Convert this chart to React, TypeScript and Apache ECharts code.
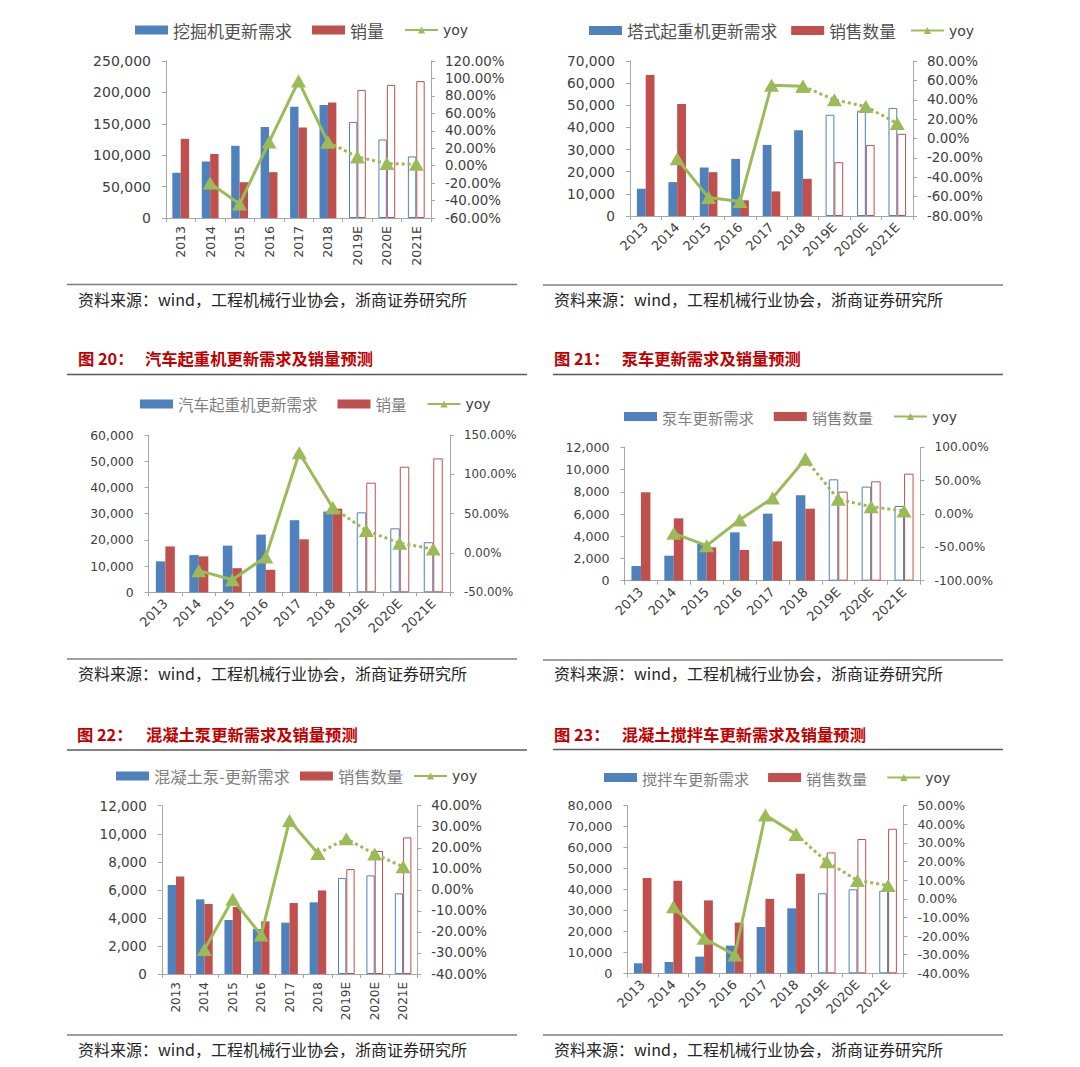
import React, { useEffect, useRef } from 'react';
import * as echarts from 'echarts';

const years = ['2013', '2014', '2015', '2016', '2017', '2018', '2019E', '2020E', '2021E'];

// Panel 1: 挖掘机
const p1DemandName = '挖掘机更新需求';
const p1SalesName = '销量';
const p1Demand = [72000, 90000, 115000, 145000, 177000, 180000, 153000, 125000, 98000];
const p1Sales = [126000, 102000, 57000, 73000, 144000, 184000, 204000, 212000, 218000];
const p1Yoy = [null, -20, -44, 27, 97, 27, 10, 2.5, 1.5];

// Panel 2: 塔式起重机
const p2DemandName = '塔式起重机更新需求';
const p2SalesName = '销售数量';
const p2Demand = [12300, 15300, 21900, 25800, 32100, 38700, 45700, 47500, 48800];
const p2Sales = [63700, 50600, 19800, 7100, 11100, 16800, 24300, 32100, 37100];
const p2Yoy = [null, -21, -61, -65, 55, 54, 40, 33, 15.5];

// Panel 3: 汽车起重机
const p3DemandName = '汽车起重机更新需求';
const p3SalesName = '销量';
const p3Demand = [11800, 14200, 17800, 22000, 27500, 30800, 30500, 24400, 19100];
const p3Sales = [17500, 13700, 9200, 8600, 20200, 31900, 41800, 47900, 51100];
const p3Yoy = [null, -22.5, -34, -5, 127.5, 57.5, 28.5, 12.5, 5];

// Panel 4: 泵车
const p4DemandName = '泵车更新需求';
const p4SalesName = '销售数量';
const p4Demand = [1320, 2250, 3300, 4350, 6030, 7680, 9120, 8460, 6720];
const p4Sales = [7950, 5610, 3000, 2760, 3540, 6480, 8010, 8940, 9630];
const p4Yoy = [null, -29, -47.5, -9, 24, 82.5, 22, 11, 4.5];

// Panel 5: 混凝土泵
const p5DemandName = '混凝土泵-更新需求';
const p5SalesName = '销售数量';
const p5Demand = [6340, 5320, 3850, 3210, 3660, 5110, 6840, 7030, 5750];
const p5Sales = [6960, 4990, 4780, 3750, 5060, 5960, 7480, 8770, 9740];
const p5Yoy = [null, -28.3, -4.5, -21.5, 33, 17.3, 24.3, 17, 11];

// Panel 6: 搅拌车
const p6DemandName = '搅拌车更新需求';
const p6SalesName = '销售数量';
const p6Demand = [4770, 5400, 7950, 13200, 22100, 31000, 38200, 40100, 39400];
const p6Sales = [45500, 44200, 34800, 24200, 35500, 47500, 57700, 64100, 69000];
const p6Yoy = [null, -4.2, -21.2, -30.2, 45, 34.6, 19.9, 9.9, 7.2];

const figTitles = [
  { num: '图 20：', text: '汽车起重机更新需求及销量预测' },
  { num: '图 21：', text: '泵车更新需求及销量预测' },
  { num: '图 22：', text: '混凝土泵更新需求及销量预测' },
  { num: '图 23：', text: '混凝土搅拌车更新需求及销量预测' },
];
const sourceText = '资料来源：wind，工程机械行业协会，浙商证券研究所';

const BLUE = '#4F81BD';
const RED = '#C0504D';
const GREEN = '#9BBB59';
const AXIS = '#A6A6A6';
const LABEL = '#404040';
const FONT = 'DejaVu Sans';
const CJK = 'Noto Sans CJK SC';

const panels = [
  {
    dn: p1DemandName, sn: p1SalesName, demand: p1Demand, sales: p1Sales, yoy: p1Yoy,
    grid: { left: 166, top: 61, width: 265, height: 157 },
    lMax: 250000, lInt: 50000, rMin: -60, rMax: 120, rInt: 20,
    rotate: 90, xFont: 12.5, yFontL: 14, yFontR: 13.4, barW: 8.4,
    lg: { left: 135, cy: 30, gap: 20, fs: 17, color: '#505050' },
  },
  {
    dn: p2DemandName, sn: p2SalesName, demand: p2Demand, sales: p2Sales, yoy: p2Yoy,
    grid: { left: 630, top: 61, width: 283, height: 155 },
    lMax: 70000, lInt: 10000, rMin: -80, rMax: 80, rInt: 20,
    rotate: 45, xFont: 13, yFontL: 13.7, yFontR: 13.4, barW: 8.8,
    lg: { left: 589, cy: 30.5, gap: 14, fs: 16.7, color: '#505050' },
  },
  {
    dn: p3DemandName, sn: p3SalesName, demand: p3Demand, sales: p3Sales, yoy: p3Yoy,
    grid: { left: 148.6, top: 435, width: 301.4, height: 157.3 },
    lMax: 60000, lInt: 10000, rMin: -50, rMax: 150, rInt: 50,
    rotate: 45, xFont: 13, yFontL: 12.4, yFontR: 11.8, barW: 9.5,
    lg: { left: 140, cy: 404, gap: 20, fs: 15.5, color: '#7F7F7F' },
  },
  {
    dn: p4DemandName, sn: p4SalesName, demand: p4Demand, sales: p4Sales, yoy: p4Yoy,
    grid: { left: 624.5, top: 447.3, width: 296, height: 133.4 },
    lMax: 12000, lInt: 2000, rMin: -100, rMax: 100, rInt: 50,
    rotate: 45, xFont: 13, yFontL: 12.6, yFontR: 12.2, barW: 9.5,
    lg: { left: 624, cy: 416.5, gap: 20, fs: 15.3, color: '#7F7F7F' },
  },
  {
    dn: p5DemandName, sn: p5SalesName, demand: p5Demand, sales: p5Sales, yoy: p5Yoy,
    grid: { left: 161.8, top: 805.7, width: 255.5, height: 168.3 },
    lMax: 12000, lInt: 2000, rMin: -40, rMax: 40, rInt: 10,
    rotate: 90, xFont: 12, yFontL: 13.5, yFontR: 13.3, barW: 8.3,
    lg: { left: 116, cy: 776, gap: 10, fs: 16.3, color: '#7F7F7F' },
  },
  {
    dn: p6DemandName, sn: p6SalesName, demand: p6Demand, sales: p6Sales, yoy: p6Yoy,
    grid: { left: 627.4, top: 805.7, width: 276, height: 167.6 },
    lMax: 80000, lInt: 10000, rMin: -40, rMax: 50, rInt: 10,
    rotate: 45, xFont: 13, yFontL: 12.8, yFontR: 12.5, barW: 8.8,
    lg: { left: 604, cy: 777.5, gap: 19, fs: 15.3, color: '#7F7F7F' },
  },
];

const titlePos = [
  { x: 78, tx: 145, y: 358, line: [67, 527, 374.5] },
  { x: 554, tx: 621.7, y: 358, line: [553, 1003, 374.5] },
  { x: 77, tx: 146, y: 733.5, line: [67, 527, 750] },
  { x: 554, tx: 621.7, y: 733.5, line: [553, 1003, 749.5] },
];
const sourcePos = [
  { x: 78, y: 299, line: [67, 517, 284.5] },
  { x: 554, y: 299, line: [543, 1003, 285] },
  { x: 78, y: 673, line: [67, 517, 659] },
  { x: 554, y: 673, line: [543, 1003, 660] },
  { x: 78, y: 1049, line: [67, 517, 1035] },
  { x: 554, y: 1049, line: [543, 1003, 1035] },
];

const fmtThousands = (v: number) => String(v).replace(/\B(?=(\d{3})+(?!\d))/g, ',');

function buildOption() {
  const grid: any[] = [];
  const xAxis: any[] = [];
  const yAxis: any[] = [];
  const series: any[] = [];
  const legend: any[] = [];

  panels.forEach((p, i) => {
    grid.push({ ...p.grid, containLabel: false });
    xAxis.push({
      type: 'category', gridIndex: i, data: years, boundaryGap: true,
      axisLine: { show: true, lineStyle: { color: AXIS, width: 1 } },
      axisTick: { show: true, length: 4, lineStyle: { color: AXIS } },
      axisLabel: {
        interval: 0, rotate: p.rotate, margin: p.rotate === 90 ? 8 : 9,
        fontFamily: FONT, fontSize: p.xFont, color: LABEL,
      },
      splitLine: { show: false },
    });
    yAxis.push({
      type: 'value', gridIndex: i, position: 'left', min: 0, max: p.lMax, interval: p.lInt,
      axisLine: { show: true, lineStyle: { color: AXIS } },
      axisTick: { show: true, length: 4, lineStyle: { color: AXIS } },
      splitLine: { show: false },
      axisLabel: { formatter: (v: number) => fmtThousands(v), margin: 15, fontFamily: FONT, fontSize: p.yFontL, color: LABEL },
    });
    yAxis.push({
      type: 'value', gridIndex: i, position: 'right', min: p.rMin, max: p.rMax, interval: p.rInt,
      axisLine: { show: true, lineStyle: { color: AXIS } },
      axisTick: { show: true, length: 4, lineStyle: { color: AXIS } },
      splitLine: { show: false },
      axisLabel: { formatter: (v: number) => v.toFixed(2) + '%', margin: 14, fontFamily: FONT, fontSize: p.yFontR, color: LABEL },
    });
    const mk = (arr: number[], c: string) =>
      arr.map((v, j) => (j >= 6 ? { value: v, itemStyle: { color: '#FFFFFF', borderColor: c, borderWidth: 1 } } : v));
    series.push({
      type: 'bar', name: p.dn, xAxisIndex: i, yAxisIndex: 2 * i, barWidth: p.barW, barGap: '0%',
      itemStyle: { color: BLUE }, data: mk(p.demand, BLUE),
    });
    series.push({
      type: 'bar', name: p.sn, xAxisIndex: i, yAxisIndex: 2 * i, barWidth: p.barW, barGap: '0%',
      itemStyle: { color: RED }, data: mk(p.sales, RED),
    });
    series.push({
      type: 'line', name: 'yoy', xAxisIndex: i, yAxisIndex: 2 * i + 1, z: 5,
      data: p.yoy.map((v, j) => (j >= 1 && j <= 5 ? v : null)),
      lineStyle: { color: GREEN, width: 3 }, itemStyle: { color: GREEN },
      symbol: 'triangle', symbolSize: [15, 13], showSymbol: true,
    });
    series.push({
      type: 'line', name: 'yoy', xAxisIndex: i, yAxisIndex: 2 * i + 1, z: 5,
      data: p.yoy.map((v, j) => (j >= 5 ? v : null)),
      lineStyle: { color: GREEN, width: 3, type: 'dotted' }, itemStyle: { color: GREEN },
      symbol: 'triangle', symbolSize: [15, 13], showSymbol: true,
    });
    legend.push({
      left: p.lg.left, top: p.lg.cy - 9, padding: 0, orient: 'horizontal',
      itemWidth: 33, itemHeight: 9, itemGap: p.lg.gap, selectedMode: false,
      data: [{ name: p.dn, icon: 'rect' }, { name: p.sn, icon: 'rect' }, { name: 'yoy' }],
      formatter: (name: string) => (name === 'yoy' ? '{y|yoy}' : name),
      textStyle: {
        fontFamily: CJK, fontSize: p.lg.fs, color: p.lg.color, lineHeight: 18,
        rich: { y: { fontFamily: FONT, fontSize: 14, color: '#404040', lineHeight: 18 } },
      },
    });
  });

  const graphic: any[] = [];
  figTitles.forEach((t, i) => {
    const tp = titlePos[i];
    graphic.push({
      type: 'text', x: tp.x, y: tp.y,
      style: { text: t.num, fill: '#C00000', fontFamily: CJK, fontSize: 16.3, fontWeight: 'bold', verticalAlign: 'middle' },
    });
    graphic.push({
      type: 'text', x: tp.tx, y: tp.y,
      style: { text: t.text, fill: '#C00000', fontFamily: CJK, fontSize: 16.3, fontWeight: 'bold', verticalAlign: 'middle' },
    });
    graphic.push({
      type: 'line', shape: { x1: tp.line[0], y1: tp.line[2], x2: tp.line[1], y2: tp.line[2] },
      style: { stroke: '#595959', lineWidth: 1.5 },
    });
  });
  sourcePos.forEach((s) => {
    graphic.push({
      type: 'line', shape: { x1: s.line[0], y1: s.line[2], x2: s.line[1], y2: s.line[2] },
      style: { stroke: '#7F7F7F', lineWidth: 1.5 },
    });
    graphic.push({
      type: 'text', x: s.x, y: s.y,
      style: { text: sourceText, fill: '#262626', fontFamily: CJK, fontSize: 16, verticalAlign: 'middle' },
    });
  });

  return {
    animation: false,
    backgroundColor: '#FFFFFF',
    grid, xAxis, yAxis, series, legend, graphic,
    tooltip: { show: false },
  };
}

export default function App() {
  const ref = useRef<HTMLDivElement>(null);
  useEffect(() => {
    if (!ref.current) return;
    const chart = echarts.init(ref.current, undefined, { renderer: 'svg' });
    chart.setOption(buildOption() as any);
    return () => chart.dispose();
  }, []);
  return (
    <div
      ref={ref}
      style={{ position: 'absolute', left: 0, top: 0, width: 1080, height: 1067, background: '#FFFFFF' }}
    />
  );
}
